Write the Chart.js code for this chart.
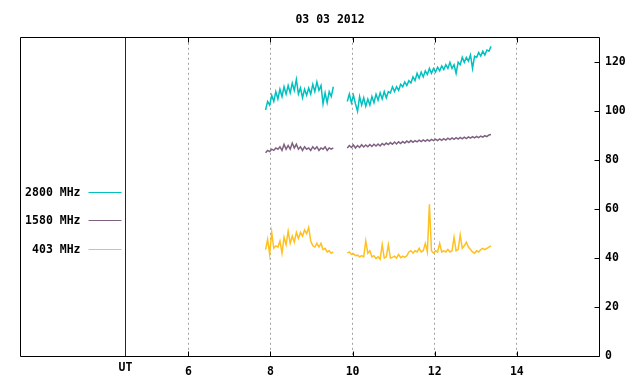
<!DOCTYPE html>
<html>
<head>
<meta charset="utf-8">
<script src="https://cdn.jsdelivr.net/npm/chart.js@4/dist/chart.umd.min.js"></script>
<style>
  html, body { margin: 0; padding: 0; background: #ffffff; }
  canvas { display: block; }
</style>
</head>
<body>
<canvas id="c" width="640" height="384"></canvas>
<script>
// ---------------- DATA ----------------
const chartTitle = "03 03 2012";
const seriesLabels = ["2800 MHz", "1580 MHz", "403 MHz"];
const xTickValues = [6, 8, 10, 12, 14];
const yTickValues = [0, 20, 40, 60, 80, 100, 120];
const utLabel = "UT";
const utHour = 4.45;

// sample times (UT hours); null values at 9.70 mark the data gap
const times = [
  7.88,7.93,7.98,8.03,8.08,8.13,8.18,8.23,8.28,8.33,8.38,8.43,8.48,8.53,8.58,8.63,8.68,
  8.73,8.78,8.83,8.88,8.93,8.98,9.03,9.08,9.13,9.18,9.23,9.28,9.33,9.38,9.43,9.48,9.53,
  9.70,
  9.87,9.92,9.97,10.02,10.07,10.12,10.17,10.22,10.27,10.32,10.37,10.42,10.47,10.52,10.57,
  10.62,10.67,10.72,10.77,10.82,10.87,10.92,10.97,11.02,11.07,11.12,11.17,11.22,11.27,11.32,
  11.37,11.42,11.47,11.52,11.57,11.62,11.67,11.72,11.77,11.82,11.87,11.92,11.97,12.02,12.07,
  12.12,12.17,12.22,12.27,12.32,12.37,12.42,12.47,12.52,12.57,12.62,12.67,12.72,12.77,12.82,
  12.87,12.92,12.97,13.02,13.07,13.12,13.17,13.22,13.27,13.32,13.37
];

const flux2800 = [
  100.5,104,102.5,106.5,104,108,105,109,106,110,107,110.5,107.5,111.5,108.5,113,107,
  109.5,105.5,109,106.5,109.5,107,111,108,112,108.5,110.5,103,107.5,103.5,108,106,110,
  null,
  104,107,103.5,106.5,103,100,106,102.5,105.5,102,105,102.5,106,103.5,107,
  104.5,107.5,105,108,105.5,108,107.5,110,108,110,108.5,111,110,112,110.5,
  112.5,111.5,114,112.5,115.5,113.5,116,114,116.5,115,117.5,115.5,117.5,116,118,
  116.5,118.5,117,119,117.5,120,117.5,119,115.5,120,119,122,120,122,120.5,
  123,117.5,122.5,122,124,122.5,124.5,123,125,124.5,126.5
];

const flux1580 = [
  83,84,83.5,84.5,84,85,84.5,85.5,84,86.5,84.5,86,84.5,87,85,86.5,84.5,
  85.5,84,85.5,84.5,85,84,85.5,84.5,85.5,84,85,84.5,85.5,84,85,84.5,85,
  null,
  85,86,85.2,86.2,85,86,85.2,86.3,85.4,86.2,85.5,86.4,85.6,86.5,85.8,
  86.6,85.8,86.8,86.2,87,86.4,87.2,86.5,87.4,86.6,87.5,86.8,87.6,87,87.8,
  87.2,88,87.3,88,87.5,88.2,87.6,88.3,87.7,88.4,87.8,88.5,88,88.6,88,
  88.7,88.1,88.8,88.2,89,88.4,89.1,88.5,89.2,88.6,89.3,88.7,89.4,88.8,89.5,
  89,89.6,89.1,89.7,89.2,89.8,89.4,90,89.6,90.3,90.5
];

const flux403 = [
  43.5,47.7,41.5,50.5,44,45,44.5,47,42,48.5,45.5,51,46,49,46.5,50.5,48,
  50.5,49,51.5,50,52.5,47,45,44.5,46,44.5,46,43.5,44,42.5,43,42,42.5,
  null,
  42,42.5,41.5,41.8,41,41.2,40.5,41,40.5,47,42,43,40.5,41,39.8,
  40.5,39.5,45.5,40,40.5,45.5,40,40.3,40.8,40,41.5,40.2,40.8,40.3,41,
  42.5,43,42,43,42.5,44,42.5,43,46,42.5,62,43,42,43,42.5,
  46,42.5,43,42.5,43.5,42.5,43,48.5,43,43.5,49.5,44,45,46.5,44.5,
  43.5,42.5,42,43,42.5,43.5,44,43.5,44,44.5,45
];

// ---------------- STYLE ----------------
const FONT = "'DejaVu Sans Mono', 'Liberation Mono', monospace";
const colors = ["#00c0c0", "#806080", "#ffc020"];

function toPoints(vals) {
  return times.map((t, i) => ({ x: t, y: vals[i] }));
}

const framePlugin = {
  id: 'frame',
  afterDatasetsDraw(chart) {
    const ctx = chart.ctx;
    const a = chart.chartArea;
    const xs = chart.scales.x, ys = chart.scales.y;
    ctx.save();
    // UT separator line
    const ux = Math.round(xs.getPixelForValue(utHour)) + 0.5;
    ctx.strokeStyle = "#800000";
    ctx.lineWidth = 1;
    ctx.beginPath();
    ctx.moveTo(ux, a.top);
    ctx.lineTo(ux, a.bottom);
    ctx.stroke();
    // frame
    const L = Math.floor(a.left) + 0.5, R = Math.floor(a.right) + 0.5;
    const T = Math.floor(a.top) + 0.5, B = Math.floor(a.bottom) + 0.5;
    ctx.strokeStyle = "#000";
    ctx.beginPath();
    ctx.moveTo(L, B); ctx.lineTo(L, T); ctx.lineTo(R, T); ctx.lineTo(R, B); ctx.lineTo(L, B);
    ctx.stroke();
    // inward tick marks
    ctx.beginPath();
    xTickValues.forEach(v => {
      const px = Math.round(xs.getPixelForValue(v)) + 0.5;
      ctx.moveTo(px, B); ctx.lineTo(px, B - 5);
      ctx.moveTo(px, T); ctx.lineTo(px, T + 5);
    });
    yTickValues.forEach(v => {
      const py = Math.round(ys.getPixelForValue(v)) + 0.5;
      ctx.moveTo(R, py); ctx.lineTo(R - 5, py);
    });
    ctx.stroke();
    // UT label
    ctx.fillStyle = "#000";
    ctx.font = "bold 11.5px " + FONT;
    ctx.textAlign = "center";
    ctx.textBaseline = "middle";
    ctx.fillText(utLabel, ux, a.bottom + 12);
    // legend (left region)
    ctx.textAlign = "right";
    chart.data.datasets.forEach((ds, i) => {
      const ly = Math.round(a.top + 154 + i * 28.5) + 0.5;
      ctx.fillStyle = "#000";
      ctx.fillText(ds.label, ux - 45, ly + 1);
      ctx.strokeStyle = ds.borderColor;
      ctx.beginPath();
      ctx.moveTo(ux - 37, ly);
      ctx.lineTo(ux - 4, ly);
      ctx.stroke();
    });
    ctx.restore();
  }
};

new Chart(document.getElementById('c'), {
  type: 'line',
  data: {
    datasets: [flux2800, flux1580, flux403].map((vals, i) => ({
      label: seriesLabels[i],
      data: toPoints(vals),
      borderColor: colors[i],
      backgroundColor: colors[i],
      borderWidth: 1.5,
      pointRadius: 0,
      tension: 0,
      spanGaps: false,
      fill: false
    }))
  },
  options: {
    responsive: false,
    animation: false,
    layout: { padding: { left: 20, right: 0, top: 0, bottom: 0 } },
    plugins: {
      legend: { display: false },
      tooltip: { enabled: false },
      title: {
        display: true,
        text: chartTitle,
        color: '#000',
        font: { family: FONT, size: 11.5, weight: 'bold' },
        padding: { top: 13, bottom: 11 }
      }
    },
    scales: {
      x: {
        type: 'linear',
        min: 1.9,
        max: 16,
        afterBuildTicks: s => { s.ticks = xTickValues.map(v => ({ value: v })); },
        afterFit: s => { s.height = 28; },
        ticks: {
          color: '#000',
          font: { family: FONT, size: 11.5, weight: 'bold' },
          padding: 9,
          maxRotation: 0,
          autoSkip: false
        },
        grid: { color: '#a0a0a0', lineWidth: 1, drawTicks: false },
        border: { display: false, color: '#000', width: 1, dash: [2, 3] }
      },
      y: {
        type: 'linear',
        position: 'right',
        min: 0,
        max: 130,
        afterBuildTicks: s => { s.ticks = yTickValues.map(v => ({ value: v })); },
        afterFit: s => { s.width = 41; },
        ticks: {
          color: '#000',
          font: { family: FONT, size: 11.5, weight: 'bold' },
          padding: 6
        },
        grid: { display: false, drawTicks: false },
        border: { display: false, color: '#000', width: 1 }
      }
    }
  },
  plugins: [framePlugin]
});
</script>
</body>
</html>
